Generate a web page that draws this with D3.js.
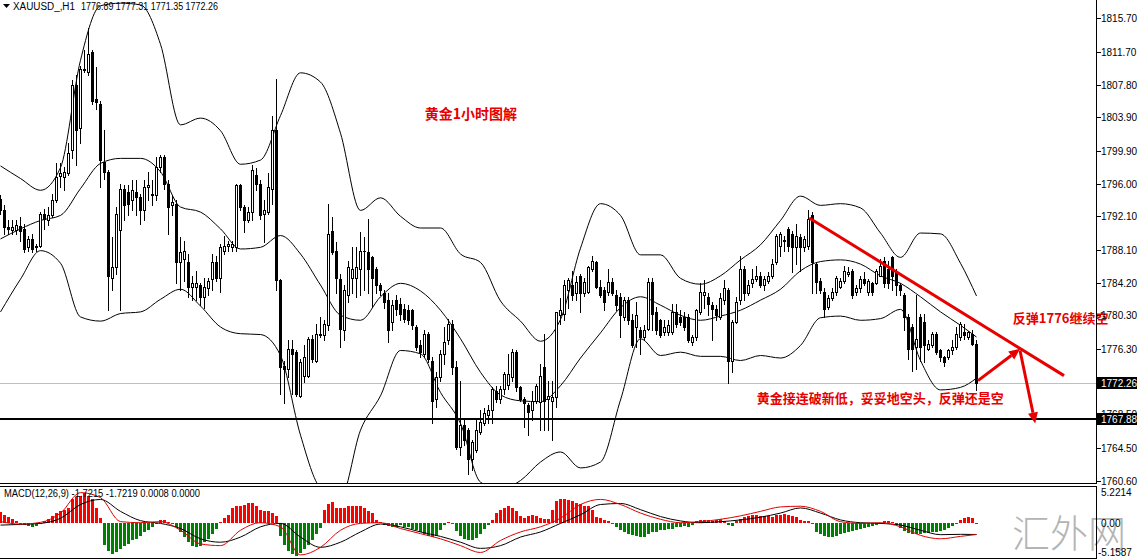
<!DOCTYPE html>
<html><head><meta charset="utf-8">
<script src="https://cdn.jsdelivr.net/npm/d3@7"></script>
<style>
html,body{margin:0;padding:0;background:#fff;overflow:hidden}
svg{display:block}
</style></head><body>
<svg id="c" width="1138" height="560"></svg>
<script>
// ---------------- DATA ----------------
const symbolLabel = "XAUUSD_,H1";
const lastOHLC = ["1776.89", "1777.31", "1771.35", "1772.26"];
const macdLabel = "MACD(12,26,9) -1.7215 -1.7219 0.0008 0.0000";
const priceTicks = [1815.70, 1811.70, 1807.80, 1803.90, 1799.90, 1796.00, 1792.10, 1788.10,
  1784.20, 1780.30, 1776.30, 1772.40, 1768.50, 1764.50, 1760.60];
const macdTicks = [5.2214, 0.00, -5.1587];
const bidPrice = 1772.26;
const levelPrice = 1767.88;

// [open, high, low, close] per H1 bar
const ohlc = [
[1794.2,1794.6,1792.4,1792.8],[1792.8,1793.4,1790.0,1790.8],[1790.8,1791.6,1790.0,1790.6],[1790.5,1791.6,1790.0,1790.8],
[1790.5,1791.6,1790.0,1791.0],[1790.9,1792.0,1789.2,1790.4],[1790.6,1791.2,1787.8,1788.2],[1788.4,1789.8,1788.0,1789.4],
[1789.4,1790.0,1787.8,1788.2],[1788.4,1788.8,1788.0,1788.5],[1788.6,1792.6,1788.4,1792.4],[1792.4,1793.0,1790.6,1791.8],
[1791.7,1793.2,1791.0,1792.3],[1792.2,1794.8,1792.0,1794.0],[1794.0,1798.4,1793.8,1796.8],[1796.9,1798.4,1795.6,1797.2],
[1796.8,1798.0,1795.2,1797.4],[1797.2,1800.8,1797.0,1799.6],[1800.0,1808.3,1799.0,1807.7],[1807.7,1808.9,1798.2,1802.4],
[1802.6,1810.0,1800.8,1809.7],[1809.7,1811.9,1809.3,1809.5],[1809.3,1814.5,1809.0,1811.5],[1811.7,1811.9,1805.5,1805.9],
[1806.1,1809.9,1804.9,1805.7],[1805.5,1805.9,1795.6,1798.8],[1798.6,1802.4,1796.6,1797.4],[1797.4,1797.6,1780.9,1785.0],
[1784.8,1789.6,1783.3,1786.0],[1786.0,1793.2,1785.2,1792.4],[1790.5,1796.0,1780.9,1795.4],[1795.4,1795.8,1791.6,1793.4],
[1795.0,1795.8,1792.2,1793.6],[1794.0,1796.4,1792.8,1795.2],[1795.0,1796.4,1792.2,1794.4],[1794.4,1794.8,1791.2,1792.8],
[1792.8,1796.4,1791.6,1795.6],[1795.6,1797.4,1794.0,1795.8],[1794.6,1796.4,1793.4,1794.8],[1794.6,1799.2,1794.0,1798.0],
[1798.0,1799.4,1797.4,1799.2],[1799.2,1799.4,1795.4,1796.0],[1796.0,1796.4,1790.0,1793.2],[1793.4,1794.6,1792.2,1793.8],
[1793.6,1794.0,1784.1,1786.6],[1786.6,1789.6,1783.3,1787.8],[1787.0,1789.2,1784.4,1788.0],[1786.6,1787.6,1782.5,1783.7],
[1783.7,1785.0,1782.1,1784.1],[1783.7,1785.6,1782.1,1784.1],[1783.9,1784.1,1781.5,1782.5],[1782.5,1784.8,1781.2,1783.7],
[1783.5,1784.8,1782.7,1784.4],[1784.6,1787.6,1783.3,1786.6],[1786.6,1787.4,1784.4,1784.8],[1784.8,1788.8,1783.1,1788.4],
[1788.0,1789.8,1787.6,1788.6],[1788.5,1789.2,1788.0,1788.8],[1788.4,1789.2,1788.0,1788.8],[1788.4,1795.9,1788.0,1795.8],
[1795.8,1796.0,1792.8,1793.2],[1793.2,1793.4,1790.2,1791.6],[1791.6,1793.2,1791.4,1792.6],[1792.6,1798.2,1791.6,1797.6],
[1797.0,1797.8,1795.2,1796.0],[1796.0,1796.4,1791.8,1792.2],[1792.4,1794.0,1789.0,1792.8],[1792.6,1797.2,1792.4,1795.6],
[1795.4,1804.1,1793.6,1802.4],[1802.4,1808.5,1783.3,1784.5],[1784.5,1784.6,1770.9,1774.1],[1774.3,1774.9,1769.8,1773.9],
[1773.9,1777.3,1772.9,1776.3],[1776.3,1777.3,1770.9,1775.7],[1775.9,1776.1,1770.7,1770.9],[1770.7,1775.1,1770.5,1774.7],
[1773.1,1776.7,1772.3,1775.3],[1773.1,1777.7,1772.9,1777.5],[1777.5,1777.9,1774.7,1775.1],[1774.9,1779.3,1774.7,1778.1],
[1777.9,1780.1,1777.7,1778.1],[1777.9,1779.7,1777.3,1779.3],[1779.1,1793.6,1778.5,1790.0],[1790.4,1792.0,1787.6,1787.8],
[1788.0,1789.0,1782.9,1784.8],[1784.6,1785.2,1776.5,1778.7],[1778.5,1783.9,1777.3,1783.3],[1782.7,1786.8,1781.9,1786.0],
[1784.8,1788.4,1782.9,1785.8],[1784.8,1788.4,1782.5,1786.0],[1785.8,1790.2,1782.7,1788.0],[1787.9,1789.6,1783.3,1788.0],
[1787.8,1791.8,1782.9,1785.8],[1787.2,1787.4,1781.3,1784.8],[1785.8,1786.0,1782.9,1783.9],[1783.9,1784.1,1782.7,1783.3],
[1782.9,1783.3,1781.2,1781.9],[1782.1,1782.9,1777.1,1778.5],[1779.5,1782.1,1778.5,1781.5],[1782.1,1782.7,1780.3,1781.1],
[1781.7,1782.3,1779.7,1780.5],[1781.1,1781.7,1779.5,1779.9],[1780.9,1781.5,1779.3,1779.7],[1780.9,1781.1,1778.7,1779.1],
[1778.9,1779.1,1776.1,1776.5],[1776.7,1777.3,1775.3,1775.9],[1775.7,1778.5,1775.3,1778.1],[1778.1,1778.3,1774.7,1775.1],
[1774.9,1775.3,1767.4,1770.1],[1770.3,1773.5,1769.4,1772.9],[1772.9,1776.1,1772.5,1775.7],[1775.7,1778.9,1774.5,1777.1],
[1777.3,1779.9,1776.9,1779.3],[1779.3,1779.7,1773.3,1774.1],[1774.1,1774.9,1764.4,1764.6],[1764.6,1772.5,1763.6,1767.2],
[1767.2,1767.8,1764.8,1765.4],[1766.6,1766.8,1761.4,1763.2],[1763.2,1765.4,1761.8,1765.2],[1764.2,1767.8,1764.0,1766.6],
[1766.4,1769.0,1766.2,1767.6],[1767.4,1769.2,1767.2,1768.6],[1768.4,1769.6,1767.4,1769.0],[1769.0,1771.7,1767.4,1771.5],
[1771.3,1771.9,1770.0,1770.3],[1770.3,1771.9,1769.8,1771.5],[1771.5,1773.5,1770.9,1773.3],[1772.0,1775.7,1771.5,1773.3],
[1772.9,1776.3,1772.5,1775.9],[1775.9,1776.1,1771.3,1771.7],[1771.7,1771.9,1770.1,1770.3],[1770.3,1770.5,1767.0,1769.8],
[1769.6,1769.8,1766.0,1768.8],[1769.0,1771.3,1767.8,1770.1],[1770.1,1772.1,1769.8,1771.9],[1769.9,1774.5,1766.6,1773.1],
[1774.1,1778.1,1766.6,1770.1],[1770.3,1772.5,1766.6,1770.7],[1770.1,1772.5,1765.4,1770.5],[1770.5,1780.7,1769.4,1780.7],
[1780.3,1782.3,1779.3,1780.9],[1780.5,1784.5,1779.7,1783.9],[1783.3,1784.8,1781.2,1784.5],[1783.9,1785.6,1782.1,1782.7],
[1782.9,1785.0,1782.1,1784.3],[1785.0,1785.2,1780.7,1782.9],[1782.9,1784.8,1782.6,1784.3],[1783.1,1786.2,1782.9,1786.0],
[1785.8,1787.4,1785.6,1786.8],[1786.6,1786.8,1783.5,1783.7],[1783.7,1784.5,1782.5,1782.7],[1783.3,1783.7,1780.9,1781.9],
[1783.1,1785.8,1782.7,1784.3],[1784.3,1784.8,1782.7,1782.9],[1782.7,1783.3,1780.9,1781.5],[1782.5,1782.9,1777.7,1780.3],
[1780.1,1782.5,1779.7,1782.1],[1782.1,1782.5,1779.3,1779.7],[1779.7,1780.5,1776.5,1776.7],[1778.9,1781.9,1776.5,1780.3],
[1778.5,1778.9,1775.7,1777.7],[1777.7,1779.1,1777.3,1778.5],[1778.7,1784.8,1778.5,1784.3],[1784.3,1784.8,1778.5,1780.5],
[1780.7,1781.3,1778.1,1778.5],[1779.7,1779.9,1777.7,1777.9],[1778.3,1779.7,1777.9,1778.9],[1778.3,1779.7,1777.9,1779.1],
[1778.3,1781.7,1778.1,1780.7],[1780.7,1781.7,1778.9,1779.3],[1780.1,1780.9,1779.1,1779.5],[1780.1,1780.7,1778.5,1778.9],
[1780.1,1780.5,1777.1,1777.3],[1777.1,1777.9,1776.7,1777.7],[1777.7,1781.1,1777.3,1780.9],[1780.7,1784.1,1780.5,1783.1],
[1782.7,1784.5,1781.2,1783.1],[1782.5,1782.9,1780.3,1781.7],[1781.5,1781.9,1777.3,1781.1],[1781.1,1781.5,1779.7,1780.3],
[1780.1,1782.9,1779.9,1782.3],[1782.1,1784.5,1781.7,1783.5],[1783.3,1783.5,1772.2,1774.9],[1774.9,1779.7,1773.5,1779.5],
[1779.5,1782.5,1779.4,1781.9],[1782.1,1787.4,1781.7,1785.8],[1785.8,1786.2,1782.1,1782.9],[1782.9,1784.5,1782.7,1783.9],
[1784.1,1785.8,1783.7,1784.6],[1784.6,1786.2,1784.4,1785.0],[1785.0,1785.4,1783.7,1783.9],[1783.9,1785.0,1783.3,1784.6],
[1784.4,1785.4,1784.1,1785.0],[1785.0,1787.0,1784.8,1786.4],[1786.6,1790.0,1786.4,1789.8],[1788.6,1790.2,1787.4,1790.0],
[1789.3,1789.8,1788.0,1789.1],[1790.6,1790.8,1788.0,1788.6],[1790.0,1790.4,1785.4,1788.4],[1788.4,1791.2,1786.4,1789.8],
[1789.6,1790.0,1785.6,1788.4],[1788.4,1789.8,1788.0,1789.4],[1788.6,1792.8,1788.2,1791.8],[1792.2,1792.6,1782.9,1786.6],
[1786.4,1786.6,1782.9,1784.3],[1784.4,1784.8,1782.9,1783.3],[1783.1,1783.5,1780.1,1781.1],[1781.3,1782.7,1781.1,1782.3],
[1782.3,1783.5,1782.1,1783.1],[1783.1,1785.0,1782.7,1784.8],[1783.7,1784.8,1783.5,1784.4],[1784.4,1786.2,1784.2,1785.6],
[1785.2,1786.0,1785.0,1785.4],[1785.6,1785.8,1782.3,1782.7],[1783.1,1783.9,1782.7,1783.5],[1783.5,1785.0,1783.1,1784.6],
[1784.6,1785.4,1783.9,1784.1],[1783.1,1784.6,1782.7,1784.4],[1784.2,1784.3,1782.7,1783.1],[1784.2,1785.8,1784.0,1785.6],
[1785.0,1787.0,1785.0,1786.2],[1786.8,1787.2,1783.7,1784.2],[1785.8,1786.8,1783.5,1784.1],[1787.2,1787.4,1783.3,1785.0],
[1785.6,1785.8,1782.7,1783.9],[1783.9,1784.1,1782.7,1783.3],[1782.7,1782.9,1778.5,1780.1],[1780.1,1780.5,1775.1,1776.3],
[1778.9,1779.3,1773.7,1776.3],[1776.5,1782.7,1773.9,1777.5],[1780.1,1780.5,1774.9,1776.5],[1779.5,1780.5,1774.7,1776.7],
[1776.3,1777.3,1776.1,1776.9],[1776.7,1778.3,1776.5,1778.1],[1778.1,1778.3,1775.7,1775.9],[1776.1,1776.3,1774.9,1775.3],
[1775.3,1775.5,1774.3,1774.7],[1775.3,1776.3,1775.1,1776.1],[1776.1,1777.3,1775.7,1776.5],[1776.5,1778.9,1776.3,1778.1],
[1777.7,1779.5,1777.3,1779.3],[1778.3,1779.3,1777.5,1777.9],[1777.7,1778.4,1777.5,1778.3],[1778.1,1778.5,1776.7,1776.9],
[1776.89,1777.31,1771.35,1772.26]
];

// indicator readings sampled every 5 bars (last = final bar)
const sampleBars = [0,5,10,15,20,25,30,35,40,45,50,55,60,65,70,75,80,85,90,95,100,105,110,115,120,
  125,130,135,140,145,150,155,160,165,170,175,180,185,190,195,200,205,210,215,220,225,230,235,240,244];
const bbMid = [1789.4,1790.6,1791.6,1792.2,1795.4,1798.4,1799.0,1799.0,1797.4,1793.2,1792.6,1790.6,1788.2,1788.4,
  1789.8,1787.6,1783.9,1780.3,1779.7,1782.5,1784.1,1783.2,1780.9,1777.5,1773.5,1770.8,1770.1,1770.0,1771.9,1775.2,
  1778.2,1781.2,1782.5,1781.5,1780.3,1779.7,1780.2,1780.9,1782.1,1783.4,1785.6,1786.7,1786.9,1786.4,1785.0,1784.1,
  1782.5,1780.7,1779.1,1777.7];
const bbDev = [8.7,6.0,3.6,5.7,15.3,18.8,18.5,18.3,15.2,9.8,11.2,11.7,10.1,10.4,14.3,21.6,24.2,21.7,13.1,11.8,8.0,
  7.5,9.8,10.1,13.1,11.2,9.5,7.2,7.9,13.1,15.4,11.0,5.0,6.0,4.4,4.3,4.8,6.0,6.6,8.2,8.9,6.7,6.7,6.7,5.1,3.1,7.6,
  9.3,7.4,4.9];
const macdLine = [0.15,-0.2,0.05,1.4,4.4,3.67,0.16,0.0,0.16,-1.1,-3.1,-3.35,-1.1,0.0,-0.6,-4.7,-3.6,-1.1,-0.1,0.0,
  -0.85,-1.6,-2.35,-3.35,-4.35,-2.6,-1.35,-0.6,0.66,2.66,3.41,2.66,1.41,0.5,0.0,0.16,0.5,1.0,1.66,2.31,2.41,1.66,
  0.16,-0.1,0.0,-0.6,-1.85,-2.35,-2.0,-1.7215];
const signalLine = [-0.35,-0.25,-0.1,0.65,2.66,3.4,1.66,0.3,-0.1,-0.85,-2.35,-2.85,-2.1,-0.6,-0.1,-2.1,-3.6,-2.85,
  -1.35,-0.2,-0.6,-1.35,-2.0,-2.85,-3.75,-3.35,-2.1,-1.35,-0.1,1.16,2.66,2.81,1.91,0.9,0.26,0.0,0.15,0.41,0.81,1.41,
  2.16,1.41,0.41,0.0,-0.1,-0.35,-1.1,-1.75,-1.7,-1.7219];
const macdHist = [
1.6,1.2,0.8,0.5,0.3,-0.2,-0.4,-0.5,-0.6,-0.5,0.0,
0.2,0.5,1.0,1.4,1.7,1.9,2.2,3.4,3.7,3.9,4.3,3.9,3.4,2.2,0.7,
-3.3,-4.1,-4.6,-4.3,-3.9,-3.4,-3.1,-2.6,-2.4,-1.9,-1.4,-1.1,-0.6,
0.0,0.4,0.4,0.1,0.0,
-0.6,-1.35,-2.1,-2.85,-3.35,-3.6,-3.35,-2.85,-2.35,-1.6,-0.85,
0.1,
0.66,1.16,2.16,2.41,2.41,2.66,2.81,2.81,2.41,1.91,1.66,1.66,1.41,0.91,
-1.9,-3.3,-4.1,-4.6,-4.8,-4.4,-3.9,-3.2,-2.5,-1.6,-0.8,
1.9,2.7,3.0,2.2,2.2,2.2,2.4,2.5,2.5,2.4,2.2,1.7,1.4,0.4,0.1,
-0.3,-0.5,-0.6,-0.6,
-0.4,-0.6,-0.6,-0.9,-1.1,-1.4,-1.6,-1.9,-2.1,-1.9,-1.1,
-0.4,0.1,0.0,-1.2,-1.9,-2.4,-2.6,-2.6,-2.2,-1.6,-0.9,-0.3,
0.41,1.41,1.91,2.16,2.41,2.16,1.66,0.91,0.66,0.91,1.16,0.91,0.66,0.51,0.5,
1.9,3.2,3.5,3.5,3.3,3.2,2.9,2.7,2.4,2.4,1.8,0.9,0.7,0.4,0.2,
-0.1,-0.6,-1.1,-1.35,-1.6,-1.85,-2.0,-2.1,-2.1,-1.6,-1.35,-1.35,-1.1,-1.1,-0.85,-0.85,-0.6,-0.6,-0.5,-0.6,-0.35,
0.2,0.4,0.4,0.4,0.3,0.4,0.5,0.3,
-0.4,-0.5,
0.3,0.6,0.9,1.0,1.1,1.1,1.0,1.0,1.0,0.9,1.1,1.2,1.3,1.2,1.0,0.8,
0.4,0.3,0.2,
-0.1,-1.3,-1.7,-2.0,-2.1,-2.1,-1.9,-1.7,-1.5,-1.4,-1.2,-1.0,-0.9,-0.8,-0.6,-0.5,-0.4,
-0.1,0.2,0.3,0.1,
-0.3,-0.8,-1.2,-1.5,-1.6,-1.6,-1.6,-1.5,-1.5,-1.4,-1.3,-1.2,-1.0,-0.8,-0.5,-0.2,
0.4,0.7,0.8,0.7,0.0008
];

// annotations (bar index, price)
const trendLine = [[202.3, 1791.9], [266.0, 1773.1]];
const arrowUp = [[244.5, 1772.5], [255.0, 1776.3]];
const arrowDown = [[255.0, 1776.1], [258.8, 1767.4]];
const noteTitle = "黄金1小时图解";
const noteRebound = "反弹1776继续空";
const noteMain = "黄金接连破新低，妥妥地空头，反弹还是空";
const watermark = "汇外网";

// ---------------- LAYOUT ----------------
const W = 1138, H = 560;
const plotRight = 1096;
const mainBottom = 483, macdTop = 486, macdBottom = 558;
const svg = d3.select("#c");
const x = d3.scaleLinear().domain([0, 274]).range([0, plotRight]);
const y = d3.scaleLinear().domain([1760.6, 1815.7]).range([480.5, 18.3]);
const ym = d3.scaleLinear().domain([-5.1587, 5.2214]).range([macdBottom, macdTop + 1]);
const AX = "'Liberation Sans', Arial, sans-serif";
const CJK = "'Noto Sans CJK SC', 'Noto Sans', sans-serif";
const RED = "#e80000";

const defs = svg.append("defs");
defs.append("clipPath").attr("id","cm").append("rect").attr("x",0).attr("y",0).attr("width",plotRight).attr("height",mainBottom);
defs.append("clipPath").attr("id","cd").append("rect").attr("x",0).attr("y",macdTop+1).attr("width",plotRight).attr("height",macdBottom-macdTop-1);

svg.append("rect").attr("width",W).attr("height",H).attr("fill","#fff");

// ---- main panel
const gm = svg.append("g").attr("clip-path","url(#cm)");

// level lines
gm.append("line").attr("x1",0).attr("x2",plotRight)
  .attr("y1",Math.round(y(bidPrice))+0.5).attr("y2",Math.round(y(bidPrice))+0.5)
  .attr("stroke","#c0c0c0").attr("stroke-width",1);
gm.append("line").attr("x1",0).attr("x2",plotRight)
  .attr("y1",Math.round(y(levelPrice))).attr("y2",Math.round(y(levelPrice)))
  .attr("stroke","#000").attr("stroke-width",2.2);

// bollinger
const bandLine = d3.line().x(d=>x(d[0])+0.5).y(d=>y(d[1])).curve(d3.curveMonotoneX);
[1,0,-1].forEach(k=>{
  const pts = sampleBars.map((b,i)=>[b, bbMid[i] + k*bbDev[i]]);
  gm.append("path").attr("d",bandLine(pts)).attr("fill","none").attr("stroke","#000").attr("stroke-width",1);
});

// candles
const gc = gm.append("g").attr("shape-rendering","crispEdges");
ohlc.forEach((c,i)=>{
  const [o,h,l,cl] = c;
  const cx = Math.round(x(i));
  const yh = Math.round(y(h)), yl = Math.round(y(l));
  gc.append("rect").attr("x",cx).attr("y",yh).attr("width",1).attr("height",Math.max(1,yl-yh+1)).attr("fill","#000");
  const top = Math.round(y(Math.max(o,cl))), bot = Math.round(y(Math.min(o,cl)));
  gc.append("rect").attr("x",cx-1).attr("y",top).attr("width",3).attr("height",Math.max(1,bot-top+1)).attr("fill","#000");
  if (cl > o && bot-top >= 2) {
    gc.append("rect").attr("x",cx).attr("y",top+1).attr("width",1).attr("height",bot-top-1).attr("fill","#fff");
  }
});

// trend line + arrows
const P = d=>[x(d[0]), y(d[1])];
gm.append("line").attr("x1",P(trendLine[0])[0]).attr("y1",P(trendLine[0])[1])
  .attr("x2",P(trendLine[1])[0]).attr("y2",P(trendLine[1])[1]).attr("stroke",RED).attr("stroke-width",3);
function arrow(seg){
  const [a,b] = seg.map(P);
  const ang = Math.atan2(b[1]-a[1], b[0]-a[0]);
  const L = 11, Wd = 5;
  const bx = b[0]-L*Math.cos(ang), by = b[1]-L*Math.sin(ang);
  gm.append("line").attr("x1",a[0]).attr("y1",a[1]).attr("x2",bx).attr("y2",by).attr("stroke",RED).attr("stroke-width",3);
  const p1 = [bx + Wd*Math.sin(ang), by - Wd*Math.cos(ang)];
  const p2 = [bx - Wd*Math.sin(ang), by + Wd*Math.cos(ang)];
  gm.append("path").attr("d",`M${b[0]},${b[1]}L${p1[0]},${p1[1]}L${p2[0]},${p2[1]}Z`).attr("fill",RED);
}
arrow(arrowUp);
arrow(arrowDown);

// red notes
svg.append("text").attr("x",x(106.2)).attr("y",y(1804.4)).attr("dominant-baseline","central")
  .attr("font-family",CJK).attr("font-weight","bold").attr("font-size",14).attr("fill",RED).text(noteTitle);
svg.append("text").attr("x",x(253.2)).attr("y",y(1780.0)).attr("dominant-baseline","central")
  .attr("font-family",CJK).attr("font-weight","bold").attr("font-size",13).attr("fill",RED).text(noteRebound);
svg.append("text").attr("x",x(189.2)).attr("y",y(1770.5)).attr("dominant-baseline","central")
  .attr("font-family",CJK).attr("font-weight","bold").attr("font-size",13).attr("fill",RED).text(noteMain);

// ---- MACD panel
const gd = svg.append("g").attr("clip-path","url(#cd)");
const z0 = ym(0);
const gh = gd.append("g").attr("shape-rendering","crispEdges");
macdHist.forEach((v,i)=>{
  const yv = ym(v);
  const t = Math.round(Math.min(yv,z0)), b = Math.round(Math.max(yv,z0));
  gh.append("rect").attr("x",Math.round(x(i))-1).attr("y",t).attr("width",3).attr("height",Math.max(1,b-t))
    .attr("fill", v >= 0 ? "#ff0000" : "#008000");
});
const mline = d3.line().x(d=>x(d[0])+0.5).y(d=>ym(d[1])).curve(d3.curveMonotoneX);
gd.append("path").attr("d",mline(sampleBars.map((b,i)=>[b,signalLine[i]]))).attr("fill","none").attr("stroke","#000").attr("stroke-width",1);
gd.append("path").attr("d",mline(sampleBars.map((b,i)=>[b,macdLine[i]]))).attr("fill","none").attr("stroke","#e00000").attr("stroke-width",1);

// watermark
svg.append("text").attr("x",1012).attr("y",530).attr("dominant-baseline","central")
  .attr("font-family",CJK).attr("font-weight",300).attr("font-size",38).attr("fill","#b4b4b4").text(watermark);

// ---- frames & axes
const fr = svg.append("g").attr("shape-rendering","crispEdges").attr("stroke","#000").attr("stroke-width",1);
fr.append("line").attr("x1",0).attr("x2",plotRight+1).attr("y1",mainBottom+0.5).attr("y2",mainBottom+0.5);
fr.append("line").attr("x1",plotRight+0.5).attr("x2",plotRight+0.5).attr("y1",0).attr("y2",mainBottom+1);
fr.append("line").attr("x1",0).attr("x2",plotRight+1).attr("y1",macdTop+0.5).attr("y2",macdTop+0.5);
fr.append("line").attr("x1",plotRight+0.5).attr("x2",plotRight+0.5).attr("y1",macdTop).attr("y2",macdBottom+1);
fr.append("line").attr("x1",0).attr("x2",plotRight+1).attr("y1",macdBottom+0.5).attr("y2",macdBottom+0.5);

const ga = svg.append("g");
priceTicks.forEach(t=>{
  const yy = Math.round(y(t));
  ga.append("rect").attr("x",plotRight+1).attr("y",yy).attr("width",4).attr("height",1).attr("fill","#000");
  ga.append("text").attr("x",1101).attr("y",yy+0.5).attr("dominant-baseline","central")
    .attr("font-family",AX).attr("font-size",10).attr("fill","#000").text(t.toFixed(2));
});
[bidPrice, levelPrice].forEach(v=>{
  const yy = Math.round(y(v));
  ga.append("rect").attr("x",plotRight+1).attr("y",yy-6).attr("width",W-plotRight-2).attr("height",12).attr("fill","#000");
  ga.append("text").attr("x",1101).attr("y",yy+0.5).attr("dominant-baseline","central")
    .attr("font-family",AX).attr("font-size",10).attr("fill","#fff").text(v.toFixed(2));
});
const macdLabelY = [492, 523, 552];
macdTicks.forEach((t,i)=>{
  ga.append("text").attr("x", t < 0 ? 1098 : 1101).attr("y",macdLabelY[i]).attr("dominant-baseline","central")
    .attr("font-family",AX).attr("font-size",10).attr("fill","#000").text(i===1 ? t.toFixed(2) : String(t));
});

// headers
svg.append("path").attr("d","M3,4L10,4L6.5,8Z").attr("fill","#000");
svg.append("text").attr("x",13).attr("y",10).attr("font-family",AX).attr("font-size",10)
  .attr("textLength",62).attr("lengthAdjust","spacingAndGlyphs").text(symbolLabel);
svg.append("text").attr("x",81).attr("y",10).attr("font-family",AX).attr("font-size",10)
  .attr("textLength",137).attr("lengthAdjust","spacingAndGlyphs").text(lastOHLC.join(" "));
svg.append("text").attr("x",4).attr("y",497).attr("font-family",AX).attr("font-size",10)
  .attr("textLength",196).attr("lengthAdjust","spacingAndGlyphs").text(macdLabel);
</script>
</body></html>
